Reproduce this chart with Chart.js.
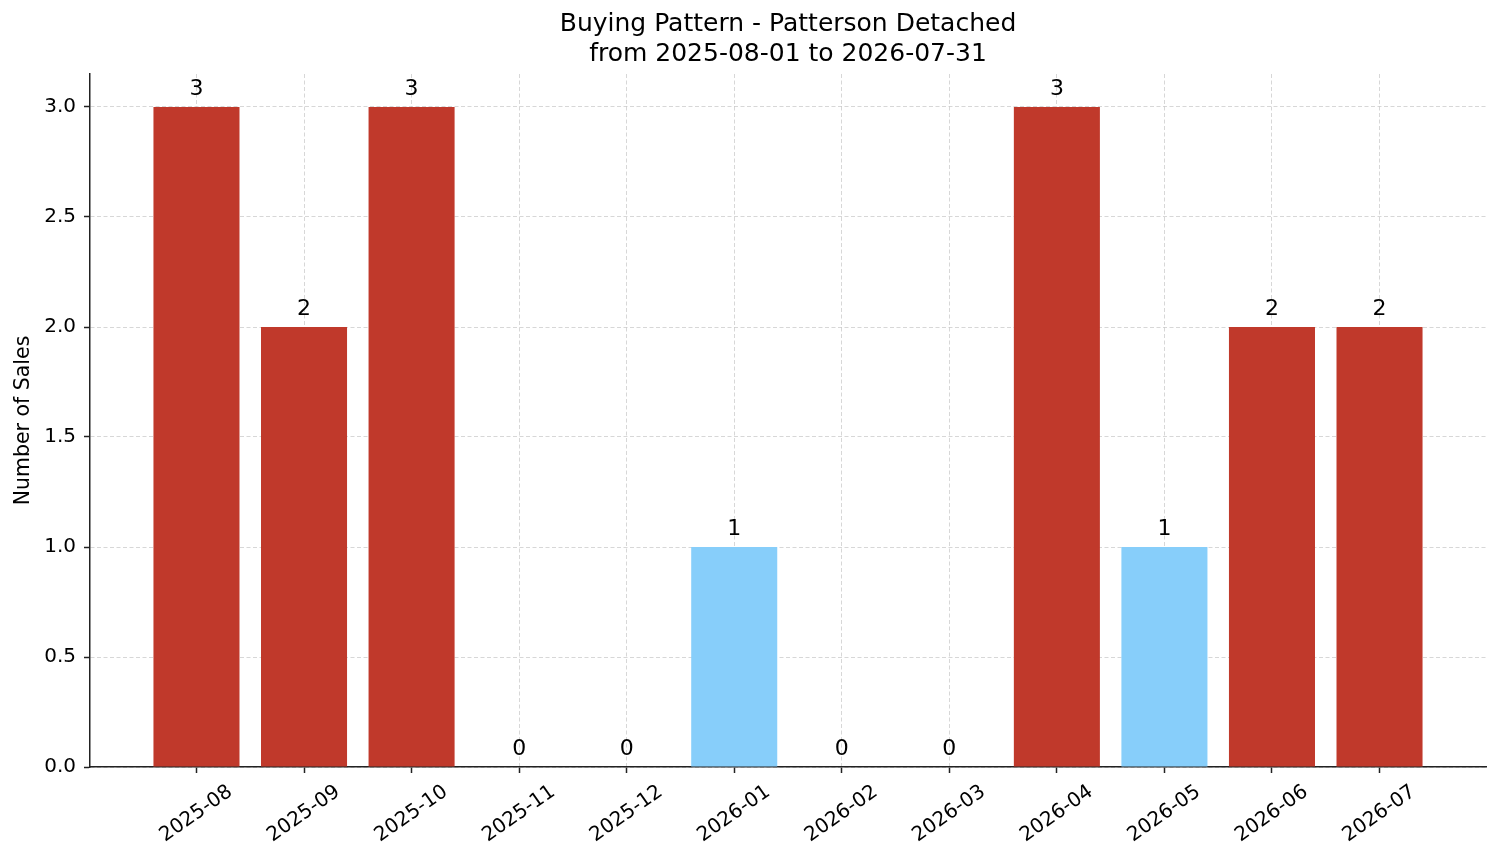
<!DOCTYPE html>
<html>
<head>
<meta charset="utf-8">
<script src="https://cdn.jsdelivr.net/npm/chart.js@4.4.0/dist/chart.umd.min.js"></script>
<style>
  html, body { margin: 0; padding: 0; background: #ffffff; }
  #wrap { width: 1501px; height: 863px; }
</style>
</head>
<body>
<div id="wrap"><canvas id="chart"></canvas></div>
<script>
'use strict';

// data
const months = ['2025-08', '2025-09', '2025-10', '2025-11', '2025-12', '2026-01',
                '2026-02', '2026-03', '2026-04', '2026-05', '2026-06', '2026-07'];
const sales = [3, 2, 3, 0, 0, 1, 0, 0, 3, 1, 2, 2];
const yTicks = [0, 0.5, 1, 1.5, 2, 2.5, 3];
const titleLines = ['Buying Pattern - Patterson Detached', 'from 2025-08-01 to 2026-07-31'];

const RED = '#c0392b';
const BLUE = '#87cefa';
const GRID = 'rgba(176,176,176,0.5)';
const AXIS = '#222222';
const FONT = "'DejaVu Sans', sans-serif";

let canvasElem = document.getElementById('chart');

// bars above the average month are red, the rest light blue
let avg = sales.reduce((a, b) => a + b, 0) / sales.length;
let barColors = sales.map(v => (v > avg ? RED : BLUE));

// value labels on top of each bar
const valueLabels = {
  id: 'valueLabels',
  afterDatasetsDraw(chart) {
    let ctx = chart.ctx;
    let meta = chart.getDatasetMeta(0);
    ctx.save();
    ctx.font = '22px ' + FONT;
    ctx.fillStyle = '#000000';
    ctx.textAlign = 'center';
    ctx.textBaseline = 'alphabetic';
    meta.data.forEach((bar, i) => {
      ctx.fillText(String(sales[i]), bar.x, bar.y - 12);
    });
    ctx.restore();
  }
};

function renderChart() {
  let chartDatasets = [{
    data: months.map((m, i) => ({ x: i, y: sales[i] })),
    backgroundColor: barColors,
    borderWidth: 0,
    barPercentage: 0.8,
    categoryPercentage: 1.0
  }];

  let chartOptions = {
    responsive: true,
    maintainAspectRatio: false,
    animation: false,
    layout: { padding: { left: 0, right: 15, top: 0, bottom: 0 } },
    plugins: {
      legend: { display: false },
      tooltip: { enabled: false },
      title: {
        display: true,
        text: titleLines,
        fullSize: false,
        color: '#000000',
        font: { family: FONT, size: 25, weight: 'normal', lineHeight: 1.18 },
        padding: { top: 10, bottom: 5 }
      }
    },
    scales: {
      x: {
        type: 'linear',
        min: -0.99,
        max: 11.99,
        offset: false,
        z: 1,
        afterBuildTicks: scale => {
          scale.ticks = months.map((m, i) => ({ value: i }));
        },
        afterFit: scale => { scale.height = 96; },
        ticks: {
          autoSkip: false,
          minRotation: 35,
          maxRotation: 35,
          labelOffset: 34,
          padding: 7,
          color: '#000000',
          font: { family: FONT, size: 20 },
          callback: v => months[v]
        },
        grid: {
          display: true,
          offset: false,
          color: GRID,
          lineWidth: 1,
          drawTicks: true,
          tickLength: 6,
          tickColor: AXIS,
          tickWidth: 1.5,
          tickBorderDash: []
        },
        border: { display: true, color: AXIS, width: 1.5, dash: [4, 2.5] }
      },
      y: {
        min: 0,
        max: 3.15,
        z: 1,
        afterBuildTicks: scale => {
          scale.ticks = yTicks.map(v => ({ value: v }));
        },
        afterFit: scale => { scale.width = 90; },
        ticks: {
          padding: 8,
          color: '#000000',
          font: { family: FONT, size: 20 },
          callback: v => Number(v).toFixed(1)
        },
        grid: {
          display: true,
          color: GRID,
          lineWidth: 1,
          drawTicks: true,
          tickLength: 6,
          tickColor: AXIS,
          tickWidth: 1.5,
          tickBorderDash: []
        },
        border: { display: true, color: AXIS, width: 1.5, dash: [4, 2.5] },
        title: {
          display: true,
          text: 'Number of Sales',
          color: '#000000',
          font: { family: FONT, size: 20.5 },
          padding: { top: 11, bottom: 0 }
        }
      }
    }
  };

  let chartConfig = {
    type: 'bar',
    data: { datasets: chartDatasets },
    options: chartOptions,
    plugins: [valueLabels]
  };

  new Chart(canvasElem, chartConfig);
}

renderChart();
</script>
</body>
</html>
